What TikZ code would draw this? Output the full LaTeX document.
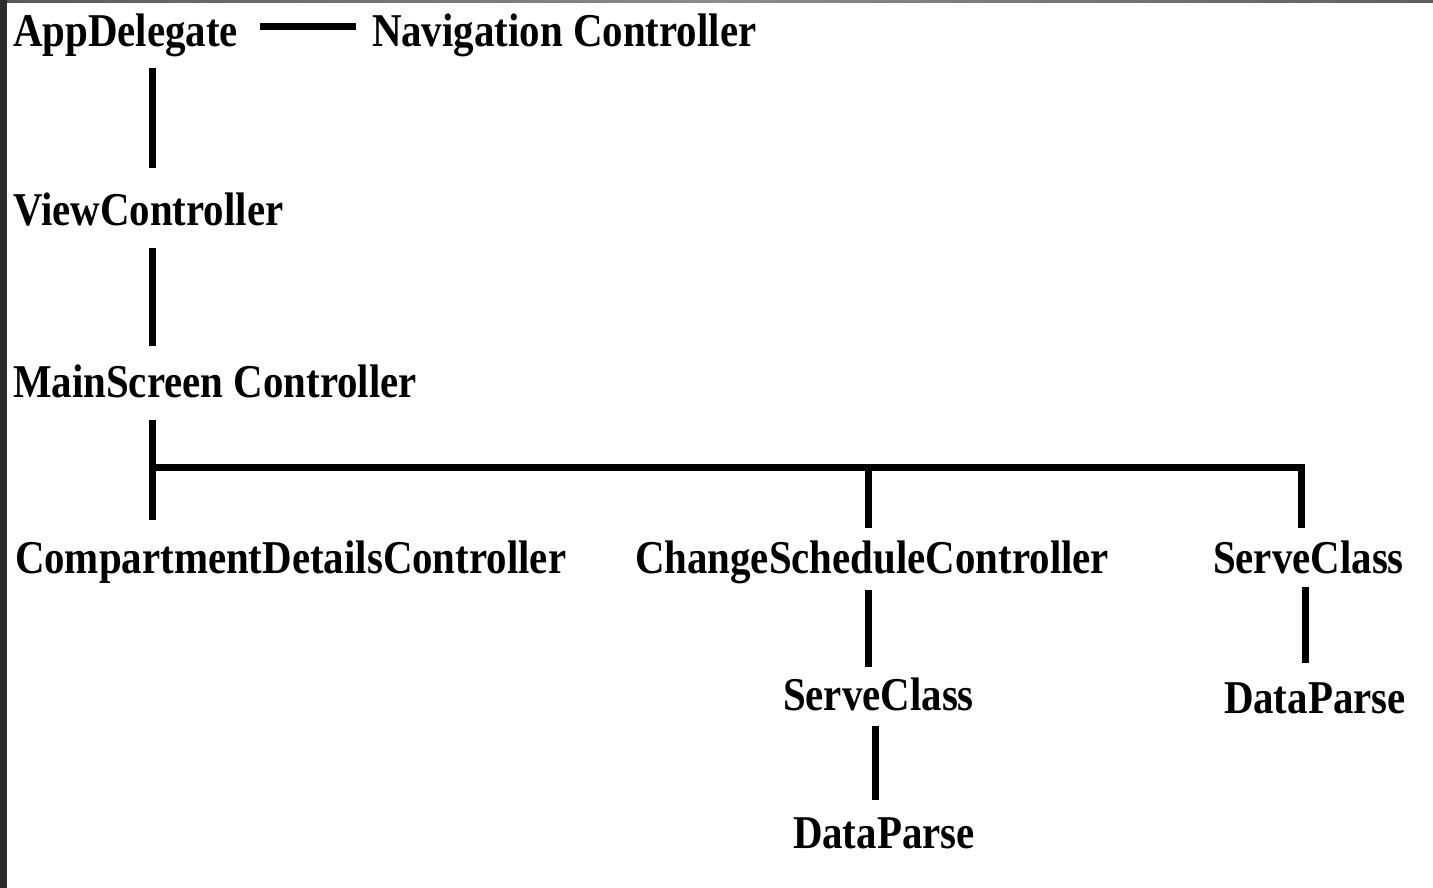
\documentclass[tikz,border=0pt]{standalone}
\usepackage{fontspec}
\setmainfont{Liberation Serif}
\usetikzlibrary{calc}
\definecolor{leftstrip}{RGB}{44,44,44}
\definecolor{topA}{RGB}{90,90,90}
\definecolor{topB}{RGB}{140,140,140}
\definecolor{topC}{RGB}{95,95,95}
\newcommand{\lbl}[1]{\scalebox{1}[1.15]{#1}}
\begin{document}
\begin{tikzpicture}[x=1pt,y=-1pt,
  lab/.style={anchor=base west,inner sep=0pt,outer sep=0pt,
    font=\fontsize{40.9}{48}\selectfont\bfseries,text=black},
  conn/.style={line width=7pt,black}]
\useasboundingbox (0,0) rectangle (1433,888);
\fill[white] (0,0) rectangle (1433,888);
\fill[leftstrip] (0,0) rectangle (7,888);
\shade[left color=topA,right color=topC,middle color=topB] (7,0) rectangle (1433,3);

% nodes
\node[lab] (app)  at (13,47)   {\lbl{AppDelegate}};
\node[lab] (nav)  at (372,47)  {\lbl{Navigation Controller}};
\node[lab] (view) at (13,225)  {\lbl{ViewController}};
\node[lab] (main) at (13,397)  {\lbl{MainScreen Controller}};
\node[lab] (comp) at (15,573)  {\lbl{CompartmentDetailsController}};
\node[lab] (csc)  at (635,573) {\lbl{ChangeScheduleController}};
\node[lab] (sc1)  at (1213,573){\lbl{ServeClass}};
\node[lab] (sc2)  at (783,710) {\lbl{ServeClass}};
\node[lab] (dp1)  at (1224,713){\lbl{DataParse}};
\node[lab] (dp2)  at (793,848) {\lbl{DataParse}};

% x positions of the vertical connectors
\coordinate (xa) at (152,0);
\coordinate (xb) at (868,0);
\coordinate (xc) at (875,0);
\coordinate (xd) at (1301,0);
\coordinate (xe) at (1305,0);
\coordinate (bar) at (0,467);

% connectors
\draw[conn] ($(app.base east)+(22,-20)$) -- ($(nav.base west)+(-16,-20)$);
\draw[conn] ($(app.base -| xa)+(0,21)$) -- ($(view.base -| xa)+(0,-57)$);
\draw[conn] ($(view.base -| xa)+(0,23)$) -- ($(main.base -| xa)+(0,-51)$);
\draw[conn] ($(main.base -| xa)+(0,23)$) -- ($(comp.base -| xa)+(0,-53)$);
\draw[conn,line join=miter] ($(bar -| xa)+(-3.5,0)$) -- (bar -| xd) -- ($(sc1.base -| xd)+(0,-45)$);
\draw[conn] (bar -| xb) -- ($(csc.base -| xb)+(0,-45)$);
\draw[conn] ($(csc.base -| xb)+(0,17)$) -- ($(sc2.base -| xb)+(0,-43)$);
\draw[conn] ($(sc2.base -| xc)+(0,16)$) -- ($(dp2.base -| xc)+(0,-48)$);
\draw[conn] ($(sc1.base -| xe)+(0,14)$) -- ($(dp1.base -| xe)+(0,-50)$);
\end{tikzpicture}
\end{document}
